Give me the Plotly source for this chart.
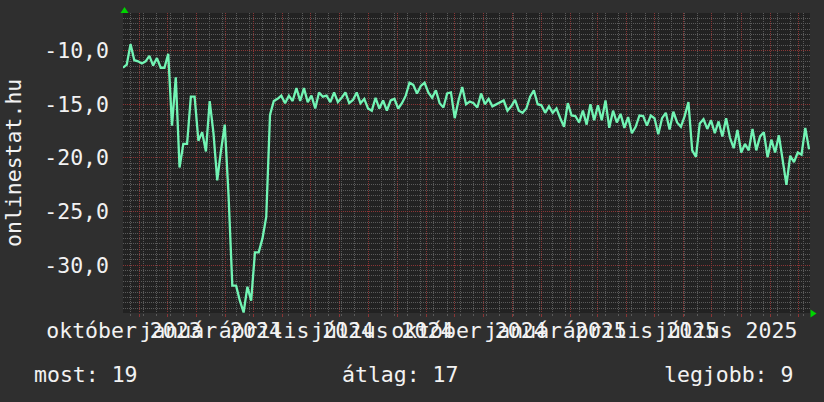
import pandas as pd
import plotly.graph_objects as go

FONT = "DejaVu Sans Mono"
FONT_SIZE = 21.5
BG_OUTER = "#2f2f2f"
BG_PLOT = "#222222"
TEXT = "#f2f2f2"
GRID_MINOR = "#5a5a5a"
GRID_MAJOR = "#8a3535"
LINE = "#72f4b4"
ARROW = "#00d400"

W, H = 824, 402
L, R, T, B = 123, 14, 13, 89

# daily rank sampled every 4 days (shown negative, rrdtool style)
start_date = "2023-10-15"
step = "4D"
rank = [
    -11.6, -11.3, -9.4, -10.9, -11.0, -11.2, -11.0, -10.5, -11.4, -10.7,
    -11.6, -11.6, -10.3, -17.0, -12.5, -20.9, -18.7, -18.7, -14.3, -14.3,
    -18.4, -17.6, -19.4, -14.7, -17.7, -22.1, -19.3, -16.9, -23.5, -31.9,
    -31.9, -33.3, -34.4, -32.0, -33.3, -28.8, -28.8, -27.5, -25.5, -16.0,
    -14.7, -14.5, -14.2, -14.9, -14.2, -14.7, -13.5, -14.7, -13.5, -14.8,
    -14.2, -15.4, -13.9, -14.3, -14.2, -14.8, -13.9, -14.8, -14.4, -13.9,
    -14.9, -14.6, -13.9, -14.9, -14.5, -15.4, -15.6, -14.4, -15.4, -14.65,
    -15.6, -14.65, -14.5, -15.4, -14.9, -14.2, -13.0, -13.2, -14.0, -13.3,
    -13.0, -13.9, -14.4, -13.7, -14.9, -15.3, -14.0, -13.9, -16.3, -14.65,
    -13.4, -15.0, -14.75, -14.9, -15.3, -14.0, -15.0, -14.5, -15.2, -15.0,
    -14.8, -14.65, -15.6, -15.2, -14.6, -15.6, -15.8, -15.4, -14.3, -13.7,
    -15.0, -15.1, -15.8, -15.2, -15.8, -15.4, -16.3, -17.1, -14.9, -16.05,
    -16.1, -16.7, -15.6, -16.9, -15.0, -16.5, -15.1, -16.5, -14.65, -17.2,
    -15.6, -16.7, -15.9, -17.2, -16.2, -17.7, -17.1, -16.05, -16.1, -17.0,
    -16.05, -16.3, -17.8, -16.3, -15.8, -17.35, -15.7, -16.7, -17.1, -16.1,
    -14.8, -19.3, -19.9, -16.8, -16.4, -17.3, -16.5, -17.7, -16.6, -18.0,
    -16.3, -18.1, -19.1, -17.4, -19.5, -18.7, -19.3, -17.3, -19.3, -18.0,
    -17.6, -19.95, -18.3, -19.5, -17.9, -20.2, -22.5, -19.8, -20.4, -19.5,
    -19.7, -17.2, -19.2,
]
dates = pd.date_range(start_date, periods=len(rank), freq=step)

x_range = ["2023-10-15", "2025-10-13"]
x_label_dates = ["2023-10-16", "2024-01-16", "2024-04-16", "2024-07-16",
                 "2024-10-16", "2025-01-16", "2025-04-16", "2025-07-16"]
x_label_text = ["október 2023", "január 2024", "április 2024", "július 2024",
                "október 2024", "január 2025", "április 2025", "július 2025"]
y_range = [-34.45, -6.5]
y_tick_vals = [-10, -15, -20, -25, -30]
y_tick_text = ["-10,0", "-15,0", "-20,0", "-25,0", "-30,0"]
legend_labels = ["most", "átlag", "legjobb"]
legend_values = [19, 17, 9]
legend_left_px = [32, 340, 662]


def px(x):
    return (x - L) / (W - L - R)


def py(y):
    return (H - B - y) / (H - T - B)


fig = go.Figure()
fig.add_trace(go.Scatter(
    x=dates, y=rank, mode="lines",
    line=dict(color=LINE, width=2.3),
    hoverinfo="x+y", showlegend=False,
))
# carrier for the label axis
fig.add_trace(go.Scatter(
    x=dates, y=rank, xaxis="x2", mode="lines",
    line=dict(width=0), opacity=0, hoverinfo="skip", showlegend=False,
))

fig.update_layout(
    width=W, height=H,
    margin=dict(l=L, r=R, t=T, b=B, autoexpand=False),
    paper_bgcolor=BG_OUTER,
    plot_bgcolor=BG_PLOT,
    font=dict(family=FONT, size=FONT_SIZE, color=TEXT),
    xaxis=dict(
        type="date", range=x_range, automargin=False,
        dtick="M1", tick0="2023-11-01",
        showticklabels=False,
        showgrid=True, gridcolor=GRID_MAJOR, griddash="1px,1px", gridwidth=1,
        ticks="outside", ticklen=3, tickcolor=GRID_MAJOR,
        minor=dict(dtick=14 * 86400000, tick0="2023-10-23",
                   showgrid=True, gridcolor=GRID_MINOR, griddash="1px,1px",
                   ticks="outside", ticklen=2, tickcolor=GRID_MINOR),
        zeroline=False, showline=False,
    ),
    xaxis2=dict(
        type="date", range=x_range, overlaying="x", anchor="y", side="bottom",
        automargin=False,
        tickmode="array", tickvals=x_label_dates, ticktext=x_label_text,
        tickangle=0, showgrid=False, zeroline=False, ticks="",
        ticklabelstandoff=2,
        tickfont=dict(family=FONT, size=FONT_SIZE, color=TEXT),
    ),
    yaxis=dict(
        range=y_range, automargin=False,
        tickmode="array", tickvals=y_tick_vals, ticktext=y_tick_text,
        showgrid=True, gridcolor=GRID_MAJOR, griddash="1px,1px", gridwidth=1,
        minor=dict(tickmode="linear", tick0=0, dtick=0.5,
                   showgrid=True, gridcolor=GRID_MINOR, griddash="1px,1px"),
        ticks="", ticklabelstandoff=13,
        zeroline=False, showline=False,
    ),
)

fig.add_annotation(
    text="onlinestat.hu", textangle=-90,
    xref="paper", yref="paper", x=px(13), y=py(163),
    xanchor="center", yanchor="middle", showarrow=False,
    font=dict(family=FONT, size=FONT_SIZE, color=TEXT),
)

for label, val, left in zip(legend_labels, legend_values, legend_left_px):
    fig.add_annotation(
        text=f"{label}: {val}",
        xref="paper", yref="paper", x=px(left), y=py(374),
        xanchor="left", yanchor="middle", showarrow=False,
        font=dict(family=FONT, size=FONT_SIZE, color=TEXT),
    )

# rrdtool axis arrows
fig.add_shape(type="path", xref="paper", yref="paper",
              path=f"M {px(120.5)} {py(13)} L {px(124.5)} {py(7)} L {px(128.5)} {py(13)} Z",
              fillcolor=ARROW, line=dict(width=0))
fig.add_shape(type="path", xref="paper", yref="paper",
              path=f"M {px(810.5)} {py(309.5)} L {px(816.5)} {py(313.5)} L {px(810.5)} {py(317.5)} Z",
              fillcolor=ARROW, line=dict(width=0))

fig.write_html(
    "out.html",
    config={"displayModeBar": False},
    post_script="document.body.style.margin='0';"
                "document.body.style.background='" + BG_OUTER + "';",
)
